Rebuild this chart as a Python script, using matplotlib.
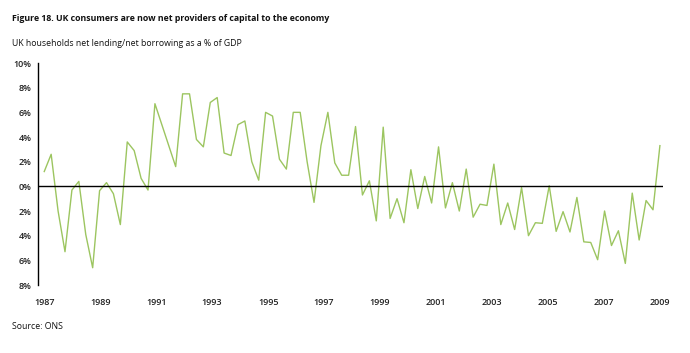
import numpy as np
import matplotlib
matplotlib.use("Agg")
import matplotlib.pyplot as plt

plt.rcParams['font.family'] = ['Open Sans', 'DejaVu Sans']

# quarterly household net lending (% of GDP), 1987 Q1 .. 2009 Q2
values = [1.2, 2.6, -2.0, -5.3, -0.3, 0.4, -3.9, -6.6,
          -0.35, 0.3, -0.6, -3.1, 3.6, 2.9, 0.65, -0.3,
          6.7, 5.0, 3.3, 1.6, 7.5, 7.5, 3.8, 3.2,
          6.8, 7.2, 2.7, 2.5, 5.0, 5.3, 2.0, 0.5,
          6.0, 5.7, 2.2, 1.4, 6.0, 6.0, 2.0, -1.3,
          3.3, 6.0, 1.9, 0.9, 0.9, 4.85, -0.7, 0.45,
          -2.8, 4.8, -2.6, -1.0, -2.95, 1.35, -1.8, 0.8,
          -1.35, 3.2, -1.75, 0.3, -2.0, 1.4, -2.5, -1.45,
          -1.55, 1.8, -3.1, -1.35, -3.5, -0.1, -4.0, -2.95,
          -3.0, 0.05, -3.65, -2.05, -3.7, -0.9, -4.5, -4.55,
          -5.95, -2.0, -4.8, -3.6, -6.25, -0.55, -4.35, -1.15,
          -1.9, 3.3]
year_labels = ['1987', '1989', '1991', '1993', '1995', '1997',
               '1999', '2001', '2003', '2005', '2007', '2009']
y_ticks = [10, 8, 6, 4, 2, 0, -2, -4, -6, -8]

fig = plt.figure(figsize=(6.9, 3.53), dpi=100)
ax = fig.add_axes([0.0546, 0.1926, 0.9058, 0.6289])

x = np.arange(len(values))
ax.plot(x, values, color='#9cc560', lw=1.0)
ax.axhline(0, color='black', lw=1.0)

ax.set_xlim(-0.95, 89.4)
ax.set_ylim(-8, 10)
ax.set_yticks(y_ticks)
ax.set_yticklabels([f"{abs(v)}%" for v in y_ticks])
ax.set_xticks(np.linspace(0, len(values) - 1, len(year_labels)))
ax.set_xticklabels(year_labels)
ax.tick_params(axis='both', length=0, labelsize=6.5, colors='#222222')
ax.tick_params(axis='y', pad=4.5)
ax.tick_params(axis='x', pad=9)
for lab in ax.get_xticklabels() + ax.get_yticklabels():
    lab.set_fontweight('semibold')

for s in ['top', 'right', 'bottom']:
    ax.spines[s].set_visible(False)
ax.spines['left'].set_color('black')
ax.spines['left'].set_linewidth(1.0)

fig.text(0.017, 0.948, "Figure 18. UK consumers are now net providers of capital to the economy",
         fontsize=6.3, fontweight='bold', color='#111111', va='center')
fig.text(0.017, 0.878, "UK households net lending/net borrowing as a % of GDP",
         fontsize=6.3, color='#111111', va='center')
fig.text(0.017, 0.076, "Source: ONS", fontsize=6.3, color='#111111', va='center')

fig.savefig('out.png', dpi=100)
